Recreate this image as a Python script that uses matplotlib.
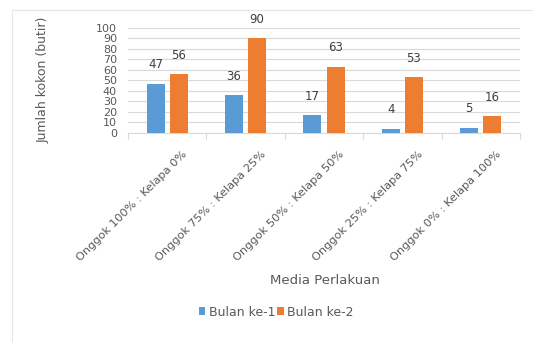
import matplotlib
matplotlib.use("Agg")
import matplotlib.pyplot as plt
import matplotlib.transforms as mtransforms
import numpy as np

categories = ["Onggok 100% : Kelapa 0%", "Onggok 75% : Kelapa 25%",
              "Onggok 50% : Kelapa 50%", "Onggok 25% : Kelapa 75%",
              "Onggok 0% : Kelapa 100%"]
bulan1 = [47, 36, 17, 4, 5]
bulan2 = [56, 90, 63, 53, 16]
series_names = ["Bulan ke-1", "Bulan ke-2"]
yticks = list(range(0, 101, 10))

blue = "#5B9BD5"
orange = "#ED7D31"
txt = "#595959"
grid = "#D9D9D9"

fig = plt.figure(figsize=(5.33, 3.42), dpi=100)
W, H = 533, 342
ax = fig.add_axes([128 / W, 1 - 133 / H, (520 - 128) / W, (133 - 28) / H])

x = np.arange(len(categories))
bw = 0.23
off = 0.147
b1 = ax.bar(x - off, bulan1, bw, color=blue, label=series_names[0], zorder=3)
b2 = ax.bar(x + off, bulan2, bw, color=orange, label=series_names[1], zorder=3)

for bars in (b1, b2):
    for r in bars:
        ax.annotate(f"{int(r.get_height())}", (r.get_x() + r.get_width() / 2, r.get_height()),
                    xytext=(0, 9), textcoords="offset points", ha="center", va="bottom",
                    fontsize=8.5, color="#404040")

ax.set_xlim(-0.5, len(categories) - 0.5)
ax.set_ylim(0, 100)
ax.set_yticks(yticks)
ax.set_yticklabels([str(v) for v in yticks], fontsize=8, color=txt)
ax.yaxis.grid(True, color=grid, linewidth=0.8, zorder=0)
ax.tick_params(axis="y", length=0, pad=8)
for s in ("left", "right", "top"):
    ax.spines[s].set_visible(False)
ax.spines["bottom"].set_color(grid)
ax.spines["bottom"].set_linewidth(0.8)

# boundary ticks on x axis
ax.set_xticks(np.arange(-0.5, len(categories), 1.0), minor=True)
ax.tick_params(axis="x", which="minor", length=4, color=grid, width=0.8)
ax.set_xticks(x)
ax.tick_params(axis="x", which="major", length=0, pad=0)
ax.set_xticklabels(categories, rotation=45, ha="right", va="top",
                   rotation_mode="anchor", fontsize=8.2, color=txt)
offset = mtransforms.ScaledTranslation(15 / 100, -16 / 100, fig.dpi_scale_trans)
for lab in ax.get_xticklabels():
    lab.set_transform(lab.get_transform() + offset)

fig.text(325 / W, 1 - 281 / H, "Media Perlakuan", ha="center", va="center",
         fontsize=9.5, color=txt)

fig.text(43 / W, 1 - 80 / H, "Jumlah kokon (butir)", rotation=90, ha="center", va="center",
         fontsize=9, color=txt)

leg = fig.legend(handles=[b1, b2], labels=series_names, loc="center",
                 bbox_to_anchor=(276 / W, 1 - 312 / H), ncol=2, frameon=False,
                 fontsize=9, handlelength=0.55, handleheight=0.55, handletextpad=0.25,
                 columnspacing=0.15, labelcolor=txt)

# chart frame lines
fig.add_artist(plt.Line2D([12 / W, 1], [1 - 10 / H, 1 - 10 / H], transform=fig.transFigure,
                          color="#E6E6E6", linewidth=0.8))
fig.add_artist(plt.Line2D([12 / W, 12 / W], [0, 1 - 10 / H], transform=fig.transFigure,
                          color="#E6E6E6", linewidth=0.8))

fig.savefig("out.png", dpi=100)
